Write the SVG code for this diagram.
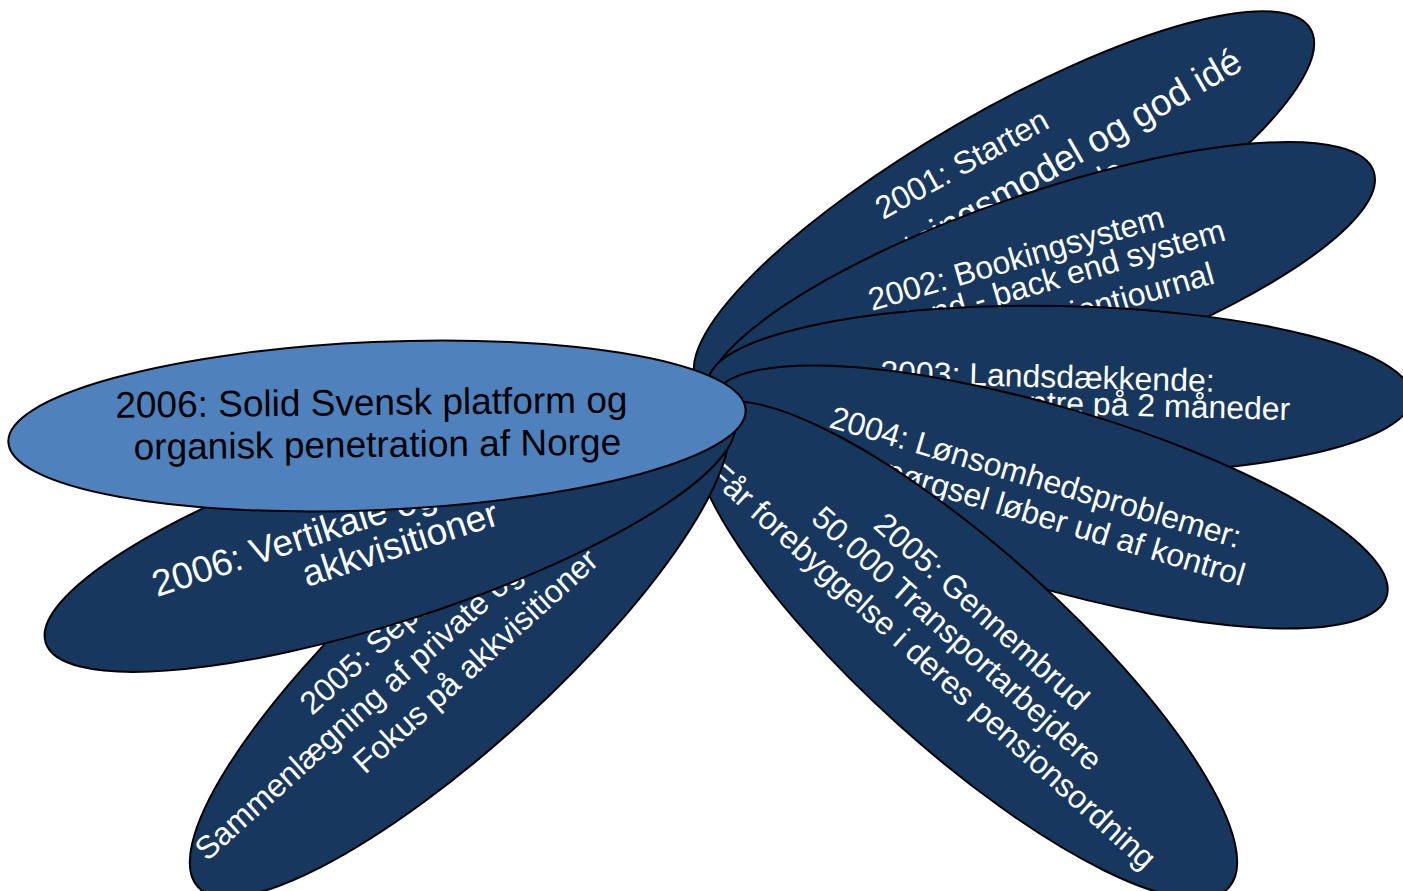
<svg xmlns="http://www.w3.org/2000/svg" width="1403" height="891" viewBox="0 0 1403 891">
  <style>
    .petal { fill: #17375E; stroke: #000; stroke-width: 2; }
    .core { fill: #4F81BD; stroke: #000; stroke-width: 2; }
    text { font-family: "Liberation Sans", Arial, sans-serif; }
    .pt { font-size: 32px; fill: #fff; }
    .pt-l { font-size: 37px; }
    .pt-big { font-size: 37px; fill: #fff; }
    .ct { font-size: 37px; fill: #000; text-anchor: middle; }
  </style>
  <rect width="1403" height="891" fill="#fff"/>

  <!-- petals, drawn from the bottom of the stack upwards -->
  <g id="petal-2001">
    <ellipse class="petal" rx="354" ry="94" transform="translate(1004 206) rotate(-30)"/>
    <text class="pt" transform="translate(883 220) rotate(-29)">2001: Starten</text>
    <text class="pt pt-l" text-anchor="end" transform="translate(1244.5 68.6) rotate(-30)">Forretningsmodel og god idé</text>
    <text class="pt" transform="translate(1020 236) rotate(-29)">på plads</text>
  </g>

  <g id="petal-2002">
    <ellipse class="petal" rx="352" ry="92" transform="translate(1040.8 285.9) rotate(-19)"/>
    <text class="pt" transform="translate(872 311) rotate(-16)">2002: Bookingsystem</text>
    <text class="pt" text-anchor="end" transform="translate(1227 240) rotate(-16)">Frontend - back end system</text>
    <text class="pt" text-anchor="end" transform="translate(1216 283) rotate(-16)">og patientjournal</text>
  </g>

  <g id="petal-2003">
    <ellipse class="petal" rx="352" ry="84" transform="translate(1060 390) rotate(1.2)"/>
    <text class="pt" transform="translate(880 383) rotate(1.5)">2003: Landsdækkende:</text>
    <text class="pt" text-anchor="end" transform="translate(1290 420) rotate(1.5)">10 centre på 2 måneder</text>
  </g>

  <g id="petal-2004">
    <ellipse class="petal" rx="351" ry="90" transform="translate(1050 497) rotate(16.4)"/>
    <text class="pt" transform="translate(828 427) rotate(16.5)">2004: Lønsomhedsproblemer:</text>
    <text class="pt" text-anchor="end" transform="translate(1241 586) rotate(16.5)">Efterspørgsel løber ud af kontrol</text>
  </g>

  <g id="petal-2005-gennembrud">
    <ellipse class="petal" rx="355" ry="100" transform="translate(965 650) rotate(42)"/>
    <text class="pt" text-anchor="middle" transform="translate(974.5 619.3) rotate(42)">2005: Gennembrud</text>
    <text class="pt" text-anchor="middle" transform="translate(949.9 646.6) rotate(42)">50.000 Transportarbejdere</text>
    <text class="pt" text-anchor="middle" transform="translate(925.3 673.9) rotate(42)">Får forebyggelse i deres pensionsordning</text>
  </g>

  <g id="petal-2005-separation">
    <ellipse class="petal" rx="355" ry="97" transform="translate(459.6 647) rotate(-42.5)"/>
    <text class="pt" transform="translate(312 716) rotate(-42)">2005: Separation</text>
    <text class="pt" transform="translate(207 862) rotate(-42)">Sammenlægning af private og offentlige kunder</text>
    <text class="pt" transform="translate(365 775) rotate(-42)">Fokus på akkvisitioner</text>
  </g>

  <g id="petal-2006-vertikale">
    <ellipse class="petal" rx="362" ry="90" transform="translate(390 531) rotate(-18)"/>
    <text class="pt-big" transform="translate(157 597) rotate(-18)">2006: Vertikale og horisontale</text>
    <text class="pt-big" transform="translate(307 587) rotate(-18)">akkvisitioner</text>
  </g>

  <!-- centre: current position -->
  <g id="core-2006">
    <ellipse class="core" rx="369" ry="84" transform="translate(377 426) rotate(-2.5)"/>
    <text class="ct" transform="translate(371.5 415) rotate(-0.6)">2006: Solid Svensk platform og</text>
    <text class="ct" transform="translate(377.5 457) rotate(-0.6)">organisk penetration af Norge</text>
  </g>
</svg>
